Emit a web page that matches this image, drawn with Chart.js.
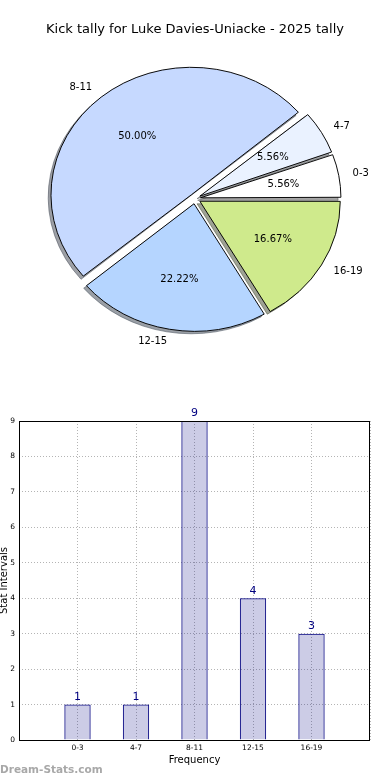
<!DOCTYPE html>
<html><head><meta charset="utf-8">
<script src="https://cdn.jsdelivr.net/npm/chart.js@4.4.1/dist/chart.umd.min.js"></script>
<style>
html,body{margin:0;padding:0;background:#fff;width:390px;height:780px;overflow:hidden;}
#pieWrap{position:absolute;left:0;top:0;width:390px;height:390px;}
#barWrap{position:absolute;left:0;top:390px;width:390px;height:390px;}
canvas{display:block;}
</style></head><body>
<div id="pieWrap"><canvas id="pie" width="390" height="390"></canvas></div>
<div id="barWrap"><canvas id="bar" width="390" height="390"></canvas></div>
<script>
// ---- data ----
const chartTitle = 'Kick tally for Luke Davies-Uniacke - 2025 tally';
const categories = ['0-3', '4-7', '8-11', '12-15', '16-19'];
const kicks = [1, 1, 9, 4, 3];
const sliceColors = ['#FFFFFF', '#EAF2FF', '#C6D9FF', '#B5D5FF', '#CFEA8C'];
const xAxisTitle = 'Frequency';
const yAxisTitle = 'Stat Intervals';
const watermark = 'Dream-Stats.com';

// ---- styling / geometry ----
const FONT = "'DejaVu Sans', sans-serif";
const RX = 140.4, RY = 127.5, SY = RY / RX, EXPLODE = 0.04;
const OFF = EXPLODE * RX;
const total = kicks.reduce((a, b) => a + b, 0);
const order = categories.map((_, i) => i).reverse(); // matplotlib counter-clockwise -> Chart.js clockwise

function hexToRgb(h) {
  const n = parseInt(h.slice(1), 16);
  return [(n >> 16) & 255, (n >> 8) & 255, n & 255];
}

const piePlugin = {
  id: 'mplPie',
  afterDatasetsUpdate(chart) {
    chart.getDatasetMeta(0).data.forEach(el => {
      const circ = el.endAngle - el.startAngle;
      const fix = 1 - Math.sin(Math.min(Math.PI, circ));
      el.outerRadius = RX - OFF * fix;
    });
  },
  beforeDatasetsDraw(chart) {
    const ctx = chart.ctx;
    const meta = chart.getDatasetMeta(0);
    const cx = meta.data[0].x, cy = meta.data[0].y;
    ctx.save();
    ctx.translate(cx, cy); ctx.scale(1, SY); ctx.translate(-cx, -cy);
    meta.data.forEach((el, j) => {
      const i = order[j];
      const m = (el.startAngle + el.endAngle) / 2;
      const ox = cx + Math.cos(m) * OFF - 0.02 * RX;
      const oy = cy + Math.sin(m) * OFF + 0.02 * RX;
      const [r, g, b] = hexToRgb(sliceColors[i]);
      const col = `rgba(${Math.round(r * 0.3)},${Math.round(g * 0.3)},${Math.round(b * 0.3)},0.5)`;
      ctx.beginPath();
      ctx.moveTo(ox, oy);
      ctx.arc(ox, oy, RX, el.startAngle, el.endAngle);
      ctx.closePath();
      ctx.fillStyle = col; ctx.fill();
      ctx.strokeStyle = col; ctx.lineWidth = 1; ctx.stroke();
    });
  },
  afterDatasetsDraw(chart) {
    const ctx = chart.ctx;
    ctx.restore();
    const meta = chart.getDatasetMeta(0);
    const cx = meta.data[0].x, cy = meta.data[0].y;
    ctx.save();
    ctx.font = `10px ${FONT}`;
    ctx.fillStyle = '#000';
    ctx.textBaseline = 'middle';
    meta.data.forEach((el, j) => {
      const i = order[j];
      const m = (el.startAngle + el.endAngle) / 2;
      const c = Math.cos(m), s = Math.sin(m);
      const bx = cx + c * OFF, by = cy + s * OFF;
      const lx = bx + c * 1.1 * RX, ly = cy + (by + s * 1.1 * RX - cy) * SY;
      ctx.textAlign = c > 0 ? 'left' : 'right';
      ctx.fillText(categories[i], lx, ly);
      const px = bx + c * 0.6 * RX, py = cy + (by + s * 0.6 * RX - cy) * SY;
      ctx.textAlign = 'center';
      ctx.fillText((kicks[i] / total * 100).toFixed(2) + '%', px, py);
    });
    ctx.restore();
  }
};

new Chart(document.getElementById('pie'), {
  type: 'pie',
  data: {
    labels: order.map(i => categories[i]),
    datasets: [{
      data: order.map(i => kicks[i]),
      backgroundColor: order.map(i => sliceColors[i]),
      borderColor: '#000',
      borderWidth: 1,
      offset: 4 * OFF,
      hoverOffset: 0
    }]
  },
  options: {
    responsive: false,
    animation: false,
    events: [],
    rotation: 90,
    radius: RX,
    layout: { padding: { top: 0, bottom: 30.2, left: 0, right: 0 } },
    plugins: {
      legend: { display: false },
      tooltip: { enabled: false },
      title: {
        display: true, text: chartTitle, color: '#000',
        font: { family: FONT, size: 13, weight: 'normal' },
        padding: { top: 22, bottom: 0 }
      }
    }
  },
  plugins: [piePlugin]
});

// ---- bar chart ----
const barPlugin = {
  id: 'mplBar',
  afterDatasetsDraw(chart) {
    const ctx = chart.ctx;
    ctx.save();
    ctx.font = `11px ${FONT}`;
    ctx.fillStyle = '#000080';
    ctx.textAlign = 'center';
    ctx.textBaseline = 'bottom';
    chart.getDatasetMeta(0).data.forEach((el, i) => {
      ctx.fillText(String(kicks[i]), el.x, el.y - 2);
    });
    ctx.restore();
  },
  afterDraw(chart) {
    const ctx = chart.ctx;
    const a = chart.chartArea;
    ctx.save();
    ctx.strokeStyle = '#000';
    ctx.lineWidth = 1;
    ctx.strokeRect(Math.round(a.left) + 0.5, Math.round(a.top) + 0.5,
      Math.round(a.right) - Math.round(a.left) - 1, Math.round(a.bottom) - Math.round(a.top));
    ctx.font = `bold 10.5px ${FONT}`;
    ctx.fillStyle = '#a8a8a8';
    ctx.textAlign = 'left';
    ctx.textBaseline = 'middle';
    ctx.fillText(watermark, 0, 380);
    ctx.restore();
  }
};

new Chart(document.getElementById('bar'), {
  type: 'bar',
  data: {
    datasets: [{
      data: kicks.map((v, i) => ({ x: i, y: v })),
      backgroundColor: 'rgba(0,0,128,0.2)',
      borderColor: '#000080',
      borderWidth: 1,
      categoryPercentage: 1,
      barPercentage: 0.45
    }]
  },
  options: {
    responsive: false,
    animation: false,
    events: [],
    layout: { padding: { top: 31, right: 20, left: 0, bottom: 0 } },
    plugins: { legend: { display: false }, tooltip: { enabled: false } },
    scales: {
      x: {
        type: 'linear', min: -1, max: 5, z: 1, offset: false,
        afterFit(s) { s.height = 40; },
        ticks: {
          stepSize: 1, autoSkip: false, maxRotation: 0, padding: 4, color: '#000',
          font: { family: FONT, size: 7.5 },
          callback: v => (categories[v] !== undefined ? categories[v] : '')
        },
        grid: { color: '#b4b4b4', lineWidth: 1, drawTicks: false, offset: false },
        border: { display: false, dash: [1, 2] },
        title: {
          display: true, text: xAxisTitle, color: '#000',
          font: { family: FONT, size: 10 }, padding: { top: 0, bottom: 14 }
        }
      },
      y: {
        min: 0, max: 9, z: 1,
        afterFit(s) { s.width = 19; },
        ticks: {
          stepSize: 1, padding: 4, color: '#000',
          font: { family: FONT, size: 7.5 }
        },
        grid: { color: '#b4b4b4', lineWidth: 1, drawTicks: false },
        border: { display: false, dash: [1, 2] },
        title: {
          display: true, text: yAxisTitle, color: '#000',
          font: { family: FONT, size: 10 }, padding: { top: -1.5, bottom: 0 }
        }
      }
    }
  },
  plugins: [barPlugin]
});
</script>
</body></html>
